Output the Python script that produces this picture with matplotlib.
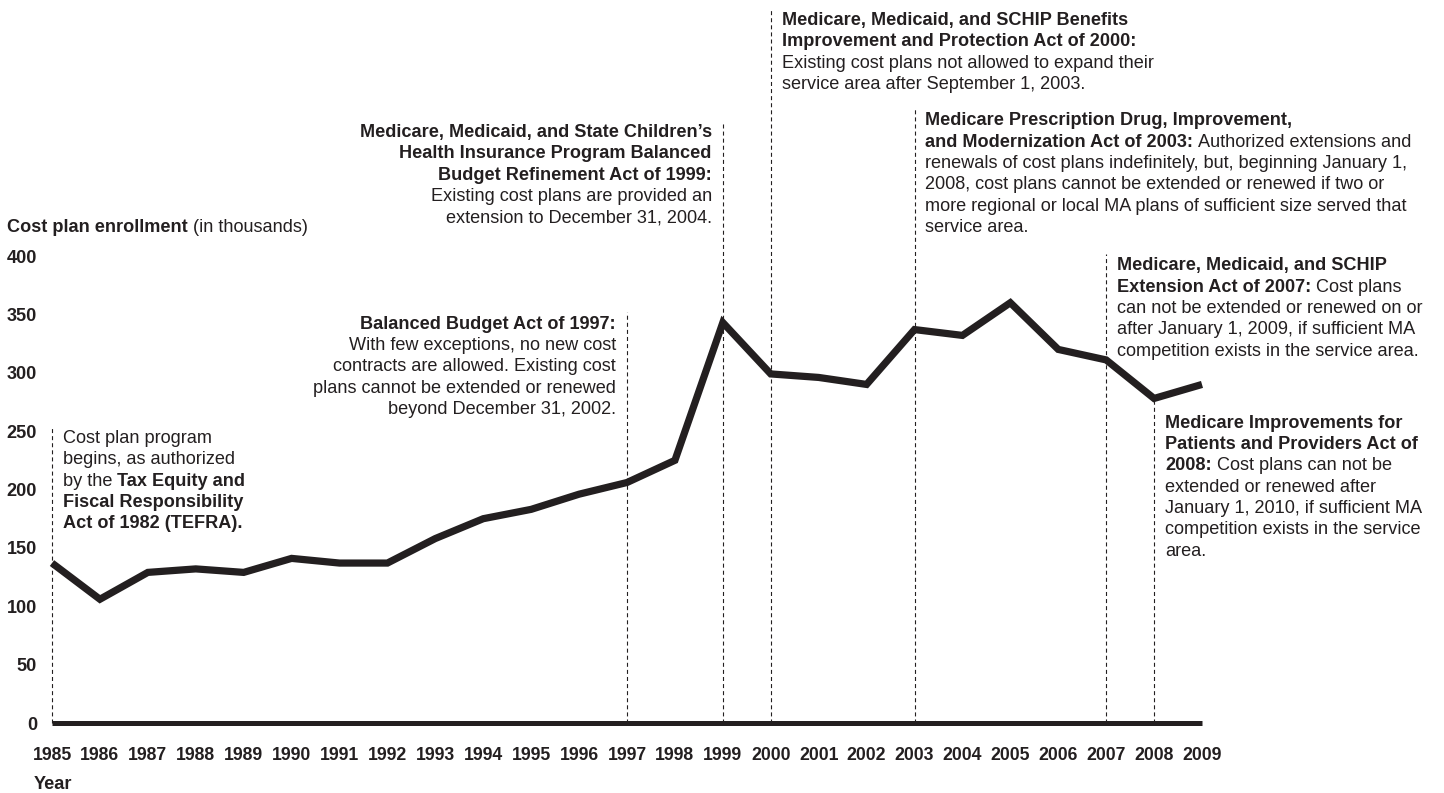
import matplotlib
matplotlib.use("Agg")
import matplotlib.pyplot as plt

# ---- data ----
years = list(range(1985, 2010))
enrollment = [137, 106, 129, 132, 129, 141, 137, 137, 158, 175, 183, 196, 206,
              225, 343, 299, 296, 290, 337, 332, 360, 320, 311, 278, 290]
y_ticks = [0, 50, 100, 150, 200, 250, 300, 350, 400]

# legislation notes: year, lines of (text, bold) segments
note_years = [1985, 1997, 1999, 2000, 2003, 2007, 2008]
note_lines = [
    [[("Cost plan program", False)],
     [("begins, as authorized", False)],
     [("by the", False), ("Tax Equity and", True)],
     [("Fiscal Responsibility", True)],
     [("Act of 1982 (TEFRA).", True)]],
    [[("Balanced Budget Act of 1997:", True)],
     [("With few exceptions, no new cost", False)],
     [("contracts are allowed. Existing cost", False)],
     [("plans cannot be extended or renewed", False)],
     [("beyond December 31, 2002.", False)]],
    [[("Medicare, Medicaid, and State Children\u2019s", True)],
     [("Health Insurance Program Balanced", True)],
     [("Budget Refinement Act of 1999:", True)],
     [("Existing cost plans are provided an", False)],
     [("extension to December 31, 2004.", False)]],
    [[("Medicare, Medicaid, and SCHIP Benefits", True)],
     [("Improvement and Protection Act of 2000:", True)],
     [("Existing cost plans not allowed to expand their", False)],
     [("service area after September 1, 2003.", False)]],
    [[("Medicare Prescription Drug, Improvement,", True)],
     [("and Modernization Act of 2003:", True), ("Authorized extensions and", False)],
     [("renewals of cost plans indefinitely, but, beginning January 1,", False)],
     [("2008, cost plans cannot be extended or renewed if two or", False)],
     [("more regional or local MA plans of sufficient size served that", False)],
     [("service area.", False)]],
    [[("Medicare, Medicaid, and SCHIP", True)],
     [("Extension Act of 2007:", True), ("Cost plans", False)],
     [("can not be extended or renewed on or", False)],
     [("after January 1, 2009, if sufficient MA", False)],
     [("competition exists in the service area.", False)]],
    [[("Medicare Improvements for", True)],
     [("Patients and Providers Act of", True)],
     [("2008:", True), ("Cost plans can not be", False)],
     [("extended or renewed after", False)],
     [("January 1, 2010, if sufficient MA", False)],
     [("competition exists in the service", False)],
     [("area.", False)]],
]

# ---- layout / style ----
note_tops = [251, 349, 513, 609, 523, 399, 264]       # top of each text block (y units)
note_sides = ["left", "right", "right", "left", "left", "left", "left"]
INK = "#231f20"
FS = 13.1
CAP_PT = 9.4       # cap height in points
LINE_PT = 15.35    # line pitch in points
GAP_PT = 7.9       # gap between dashed rule and text
SPACE_PT = 3.6     # width of a space

plt.rcParams["font.family"] = ["Liberation Sans", "DejaVu Sans"]
plt.rcParams["lines.scale_dashes"] = False

W, H = 1444, 793
fig = plt.figure(figsize=(W / 100, H / 100), dpi=100)
ax = fig.add_axes([52 / W, 70 / H, 1150 / W, 723 / H])
ax.set_xlim(1985, 2009)
ax.set_ylim(0, 619.3)
for s in ax.spines.values():
    s.set_visible(False)

# dashed rules from the baseline up to each note
for yr, top, side in zip(note_years, note_tops, note_sides):
    if yr == 2008:
        top_line = enrollment[years.index(yr)]
    else:
        top_line = top + 3
    ax.vlines(yr, 0, top_line, colors=INK, linewidth=0.8,
              linestyles=(0, (2.9, 2.2)), zorder=1, clip_on=False)

ax.axhline(0, color=INK, linewidth=3.6, solid_capstyle="butt", zorder=3, clip_on=False)
ax.plot(years, enrollment, color=INK, linewidth=5.2, solid_joinstyle="miter",
        solid_capstyle="butt", zorder=4, clip_on=False)


def draw_note(year, top, lines, side):
    dx = GAP_PT if side == "left" else -GAP_PT
    for i, line in enumerate(lines):
        dy = -(CAP_PT + i * LINE_PT)
        prev = None
        for text, bold in line:
            w = "bold" if bold else "normal"
            if prev is None:
                prev = ax.annotate(text, xy=(year, top), xytext=(dx, dy),
                                   textcoords="offset points", ha=side, va="baseline",
                                   fontsize=FS, fontweight=w, color=INK,
                                   annotation_clip=False)
            else:
                prev = ax.annotate(text, xy=(1, 0), xycoords=prev,
                                   xytext=(SPACE_PT, 0), textcoords="offset points",
                                   ha="left", va="bottom", fontsize=FS, fontweight=w,
                                   color=INK, annotation_clip=False)


for yr, top, side, lines in zip(note_years, note_tops, note_sides, note_lines):
    draw_note(yr, top, lines, side)

# ticks
ax.set_yticks(y_ticks)
ax.set_yticklabels([str(v) for v in y_ticks], fontweight="bold", fontsize=FS, color=INK)
ax.set_xticks(years)
ax.set_xticklabels([str(y) for y in years], fontweight="bold", fontsize=12.7, color=INK)
ax.tick_params(axis="y", length=0, pad=10.8)
ax.tick_params(axis="x", length=0, pad=17)

# axis titles
t = fig.text(7 / W, 1 - 232 / H, "Cost plan enrollment", fontsize=FS,
             fontweight="bold", color=INK, va="baseline")
ax.annotate("(in thousands)", xy=(1, 0), xycoords=t, xytext=(SPACE_PT, 0),
            textcoords="offset points", ha="left", va="bottom", fontsize=FS, color=INK)
fig.text(34 / W, 1 - 789 / H, "Year", fontsize=FS, fontweight="bold", color=INK,
         va="baseline")

fig.savefig("out.png", dpi=100, facecolor="white")
